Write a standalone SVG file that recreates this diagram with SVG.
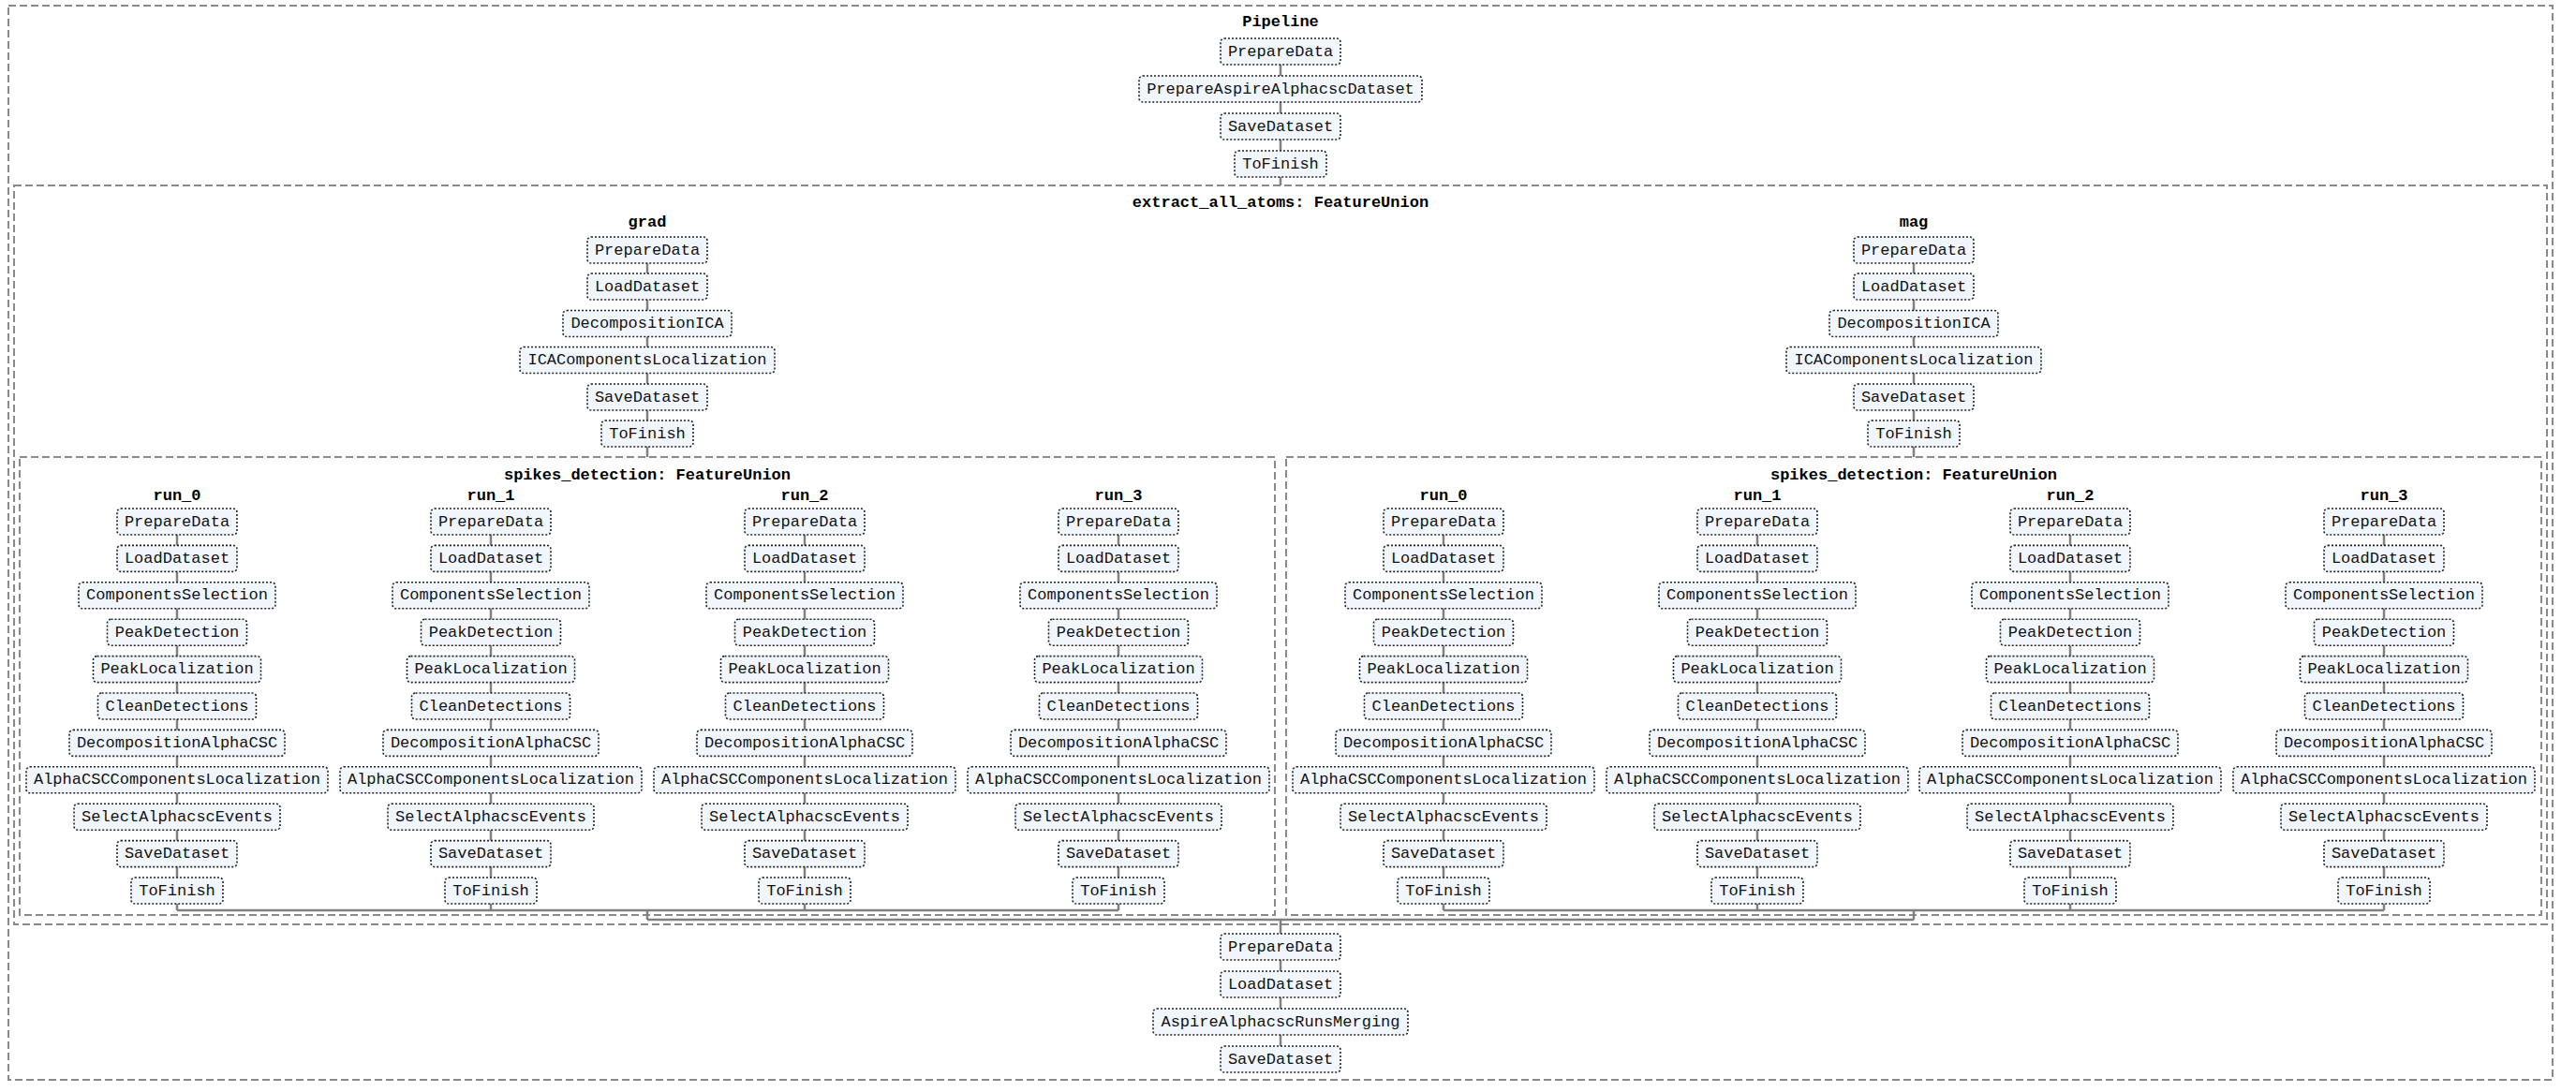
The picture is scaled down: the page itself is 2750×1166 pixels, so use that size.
<svg xmlns="http://www.w3.org/2000/svg" width="2750" height="1166" viewBox="0 0 2750 1166">
<style>
.cl{fill:none;stroke:#8a8a8a;stroke-width:2;stroke-dasharray:8,4}
.ed{fill:none;stroke:#808080;stroke-width:2.5}
.n rect{fill:#f1f6fd;stroke:#222;stroke-width:1.6;stroke-dasharray:2,2}
.n text{font-family:"Liberation Mono","Courier New",monospace;font-size:17px;fill:#111;text-anchor:middle;dominant-baseline:central}
.t{font-family:"Liberation Mono","Courier New",monospace;font-size:17px;font-weight:bold;fill:#000;text-anchor:middle;dominant-baseline:central}
</style>
<rect width="2750" height="1166" fill="#fff"/>
<g id="clusters">
<rect class="cl" x="9" y="6" width="2716" height="1147"/>
<rect class="cl" x="15" y="198" width="2704" height="789"/>
<rect class="cl" x="21" y="488" width="1340" height="489"/>
<rect class="cl" x="1373" y="488" width="1340" height="489"/>
<text class="t" x="1367" y="23">Pipeline</text>
<text class="t" x="1367" y="216">extract_all_atoms: FeatureUnion</text>
<text class="t" x="691" y="237">grad</text>
<text class="t" x="2043" y="237">mag</text>
<text class="t" x="691" y="507">spikes_detection: FeatureUnion</text>
<text class="t" x="2043" y="507">spikes_detection: FeatureUnion</text>
<text class="t" x="189" y="529">run_0</text>
<text class="t" x="524" y="529">run_1</text>
<text class="t" x="859" y="529">run_2</text>
<text class="t" x="1194" y="529">run_3</text>
<text class="t" x="1541" y="529">run_0</text>
<text class="t" x="1876" y="529">run_1</text>
<text class="t" x="2210" y="529">run_2</text>
<text class="t" x="2545" y="529">run_3</text>
</g>
<g id="connectors">
<path class="ed" d="M1367 55V198M691 267V488M2043 267V488M1367 1011V1131"/>
<path class="ed" d="M189 557V972M524 557V972M859 557V972M1194 557V972M189 972H1194M691 972V982"/>
<path class="ed" d="M1541 557V972M1876 557V972M2210 557V972M2545 557V972M1541 972H2545M2043 972V982"/>
<path class="ed" d="M691 982H2043M1367 982V997"/>
</g>
<g id="top">
<g class="n" id="p_prepare"><rect x="1303" y="41" width="128" height="28" rx="4"/><text x="1367" y="55">PrepareData</text></g>
<g class="n" id="p_aspire"><rect x="1216" y="81" width="302" height="28" rx="4"/><text x="1367" y="95">PrepareAspireAlphacscDataset</text></g>
<g class="n" id="p_save"><rect x="1303" y="121" width="128" height="28" rx="4"/><text x="1367" y="135">SaveDataset</text></g>
<g class="n" id="p_finish"><rect x="1318" y="161" width="98" height="28" rx="4"/><text x="1367" y="175">ToFinish</text></g>
</g>
<g id="grad">
<g class="n" id="g1"><rect x="627" y="253" width="128" height="28" rx="4"/><text x="691" y="267">PrepareData</text></g>
<g class="n" id="g2"><rect x="627" y="292" width="128" height="28" rx="4"/><text x="691" y="306">LoadDataset</text></g>
<g class="n" id="g3"><rect x="601" y="331.5" width="180" height="28" rx="4"/><text x="691" y="345.5">DecompositionICA</text></g>
<g class="n" id="g4"><rect x="555" y="370.5" width="272" height="28" rx="4"/><text x="691" y="384.5">ICAComponentsLocalization</text></g>
<g class="n" id="g5"><rect x="627" y="410" width="128" height="28" rx="4"/><text x="691" y="424">SaveDataset</text></g>
<g class="n" id="g6"><rect x="642" y="449" width="98" height="28" rx="4"/><text x="691" y="463">ToFinish</text></g>
</g>
<g id="mag">
<g class="n" id="m1"><rect x="1979" y="253" width="128" height="28" rx="4"/><text x="2043" y="267">PrepareData</text></g>
<g class="n" id="m2"><rect x="1979" y="292" width="128" height="28" rx="4"/><text x="2043" y="306">LoadDataset</text></g>
<g class="n" id="m3"><rect x="1953" y="331.5" width="180" height="28" rx="4"/><text x="2043" y="345.5">DecompositionICA</text></g>
<g class="n" id="m4"><rect x="1907" y="370.5" width="272" height="28" rx="4"/><text x="2043" y="384.5">ICAComponentsLocalization</text></g>
<g class="n" id="m5"><rect x="1979" y="410" width="128" height="28" rx="4"/><text x="2043" y="424">SaveDataset</text></g>
<g class="n" id="m6"><rect x="1994" y="449" width="98" height="28" rx="4"/><text x="2043" y="463">ToFinish</text></g>
</g>
<defs>
<g id="run">
<g class="n"><rect x="-64" y="543" width="128" height="28" rx="4"/><text x="0" y="557">PrepareData</text></g>
<g class="n"><rect x="-64" y="582.4" width="128" height="28" rx="4"/><text x="0" y="596.4">LoadDataset</text></g>
<g class="n"><rect x="-105" y="621.8" width="210" height="28" rx="4"/><text x="0" y="635.8">ComponentsSelection</text></g>
<g class="n"><rect x="-74.5" y="661.2" width="149" height="28" rx="4"/><text x="0" y="675.2">PeakDetection</text></g>
<g class="n"><rect x="-89.5" y="700.6" width="179" height="28" rx="4"/><text x="0" y="714.6">PeakLocalization</text></g>
<g class="n"><rect x="-84.5" y="740" width="169" height="28" rx="4"/><text x="0" y="754">CleanDetections</text></g>
<g class="n"><rect x="-115" y="779.4" width="230" height="28" rx="4"/><text x="0" y="793.4">DecompositionAlphaCSC</text></g>
<g class="n"><rect x="-161" y="818.8" width="322" height="28" rx="4"/><text x="0" y="832.8">AlphaCSCComponentsLocalization</text></g>
<g class="n"><rect x="-110" y="858.2" width="220" height="28" rx="4"/><text x="0" y="872.2">SelectAlphacscEvents</text></g>
<g class="n"><rect x="-64" y="897.6" width="128" height="28" rx="4"/><text x="0" y="911.6">SaveDataset</text></g>
<g class="n"><rect x="-49" y="937" width="98" height="28" rx="4"/><text x="0" y="951">ToFinish</text></g>
</g>
</defs>
<g id="grad_run_0"><use href="#run" x="189"/></g>
<g id="grad_run_1"><use href="#run" x="524"/></g>
<g id="grad_run_2"><use href="#run" x="859"/></g>
<g id="grad_run_3"><use href="#run" x="1194"/></g>
<g id="mag_run_0"><use href="#run" x="1541"/></g>
<g id="mag_run_1"><use href="#run" x="1876"/></g>
<g id="mag_run_2"><use href="#run" x="2210"/></g>
<g id="mag_run_3"><use href="#run" x="2545"/></g>
<g id="bottom">
<g class="n" id="b_prepare"><rect x="1303" y="997" width="128" height="28" rx="4"/><text x="1367" y="1011">PrepareData</text></g>
<g class="n" id="b_load"><rect x="1303" y="1037" width="128" height="28" rx="4"/><text x="1367" y="1051">LoadDataset</text></g>
<g class="n" id="b_merge"><rect x="1231" y="1077" width="272" height="28" rx="4"/><text x="1367" y="1091">AspireAlphacscRunsMerging</text></g>
<g class="n" id="b_save"><rect x="1303" y="1117" width="128" height="28" rx="4"/><text x="1367" y="1131">SaveDataset</text></g>
</g>
</svg>
